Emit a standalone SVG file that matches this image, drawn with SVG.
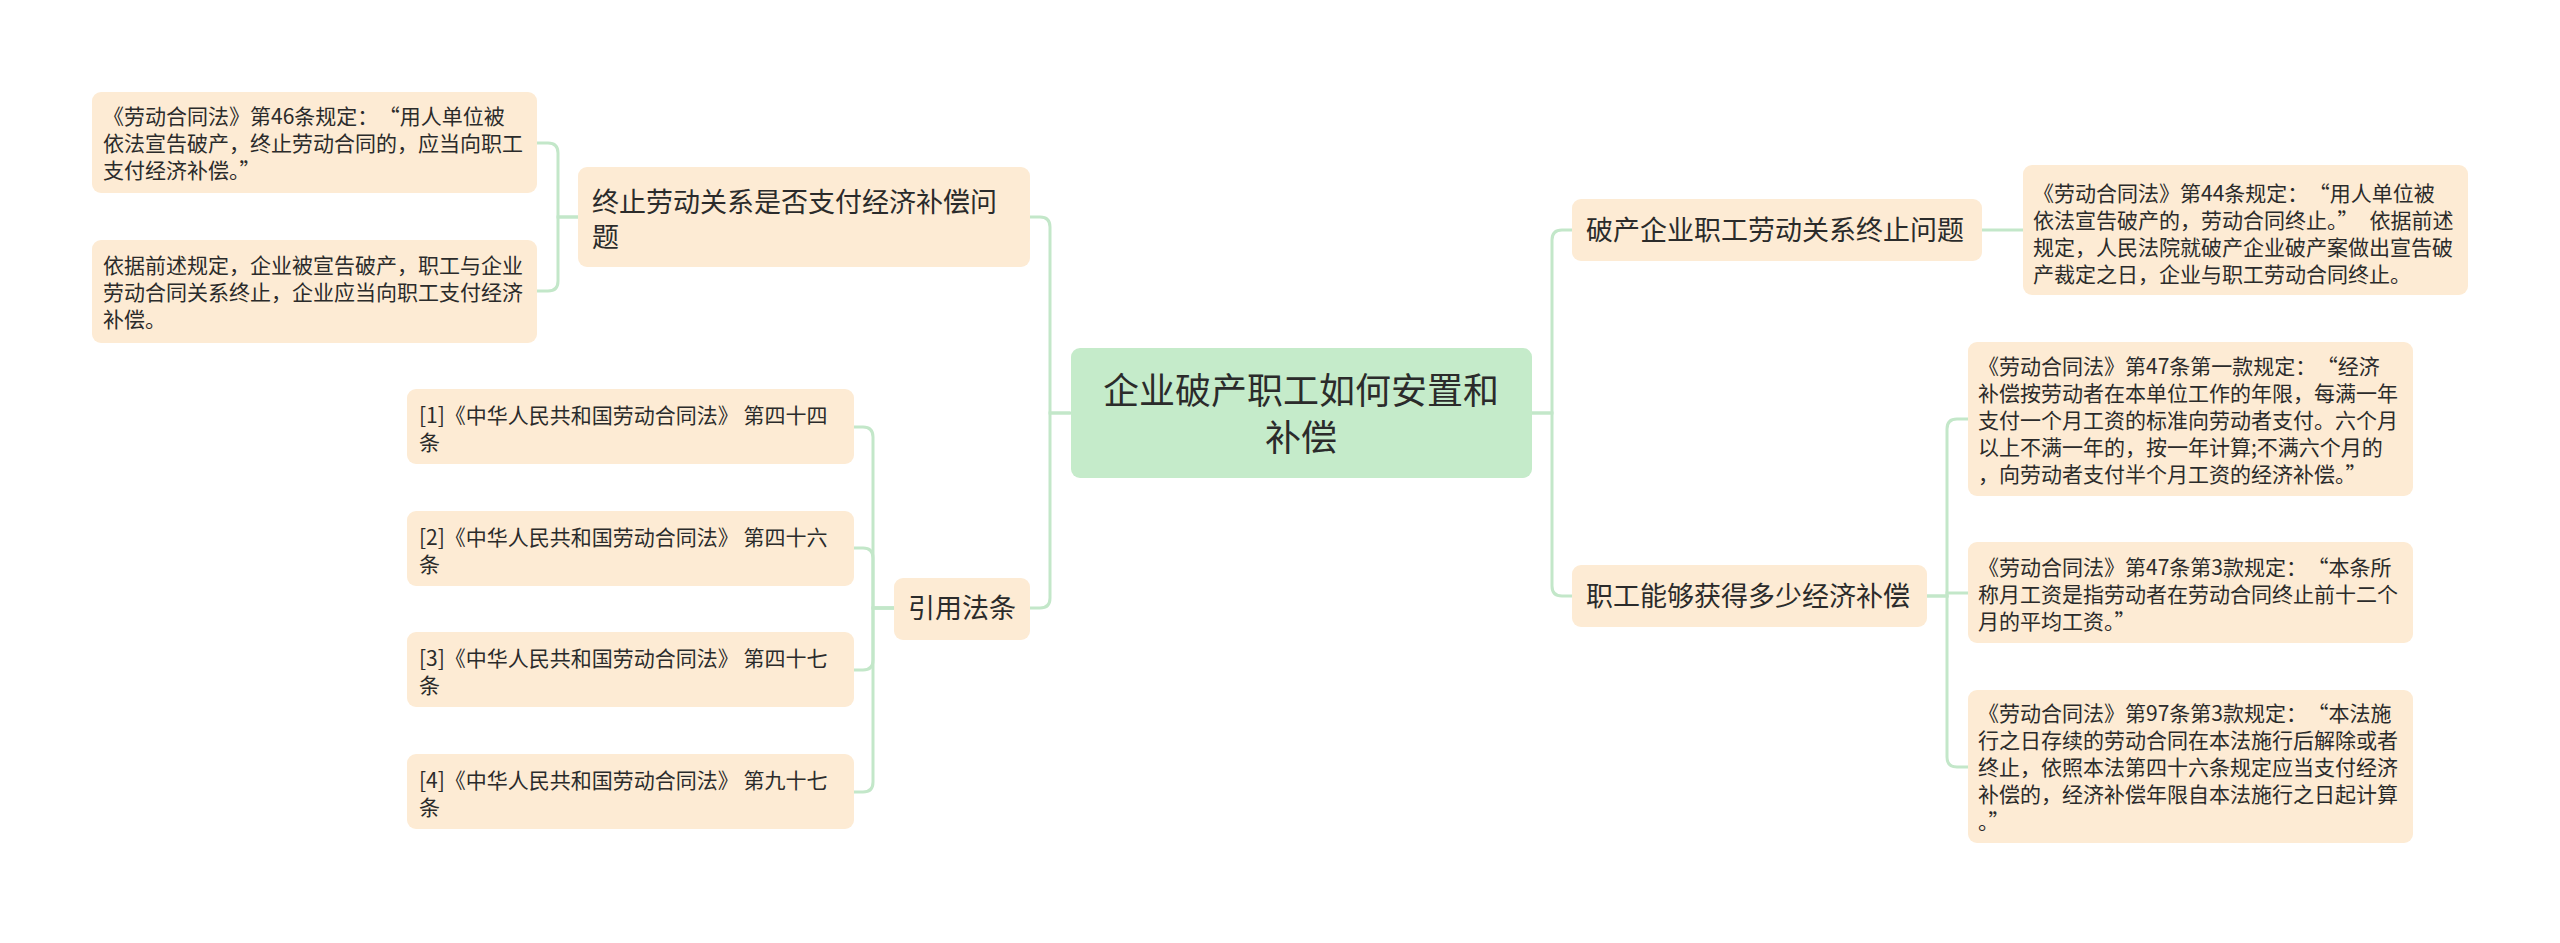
<svg xmlns="http://www.w3.org/2000/svg" width="2560" height="943" viewBox="0 0 2560 943">
<style>
.n{fill:#fdebd4;}
.c{fill:#c5ebca;}
text{font-family:"Noto Sans CJK SC","Noto Sans",sans-serif;fill:#2b2b2b;}
.s{font-size:21px;}
.m{font-size:27px;}
.big{font-size:36px;}
#connectors path{fill:none;stroke:#c3e7c9;stroke-width:3;stroke-linecap:round;}
</style>
<rect width="2560" height="943" fill="#ffffff"/>
<g id="connectors">
<path d="M1070,413 H1050 V227 Q1050,217 1040,217 H1030"/>
<path d="M1070,413 H1050 V598 Q1050,608 1040,608 H1030"/>
<path d="M1532,413 H1552 V240 Q1552,230 1562,230 H1572"/>
<path d="M1532,413 H1552 V586 Q1552,596 1562,596 H1572"/>
<path d="M1982,230 H2023"/>
<path d="M1927,596 H1947 V429 Q1947,419 1957,419 H1968"/>
<path d="M1927,596 H1947 V593 H1968"/>
<path d="M1947,596 V757 Q1947,767 1957,767 H1968"/>
<path d="M578,217 H558 V153 Q558,143 548,143 H537"/>
<path d="M578,217 H558 V281 Q558,291 548,291 H537"/>
<path d="M894,608 H873 V437 Q873,427 863,427 H854"/>
<path d="M894,608 H873 V558 Q873,548 863,548 H854"/>
<path d="M894,608 H873 V660 Q873,670 863,670 H854"/>
<path d="M894,608 H873 V782 Q873,792 863,792 H854"/>
</g>
<g id="root">
<rect class="c" x="1071" y="348" width="461" height="130" rx="9"/>
<text class="big" x="1301" y="404" text-anchor="middle">企业破产职工如何安置和</text>
<text class="big" x="1301" y="451" text-anchor="middle">补偿</text>
</g>
<g id="topic-l1">
<rect class="n" x="578" y="167" width="452" height="100" rx="9"/>
<text class="m" x="592" y="212">终止劳动关系是否支付经济补偿问</text>
<text class="m" x="592" y="247">题</text>
</g>
<g id="leaf-a1">
<rect class="n" x="92" y="92" width="445" height="101" rx="9"/>
<text class="s" x="103" y="124">《劳动合同法》第46条规定：<tspan dx="11">“</tspan>用人单位被</text>
<text class="s" x="103" y="151">依法宣告破产，终止劳动合同的，应当向职工</text>
<text class="s" x="103" y="178">支付经济补偿。”</text>
</g>
<g id="leaf-a2">
<rect class="n" x="92" y="240" width="445" height="103" rx="9"/>
<text class="s" x="103" y="273">依据前述规定，企业被宣告破产，职工与企业</text>
<text class="s" x="103" y="300">劳动合同关系终止，企业应当向职工支付经济</text>
<text class="s" x="103" y="327">补偿。</text>
</g>
<g id="topic-l2">
<rect class="n" x="894" y="578" width="136" height="62" rx="9"/>
<text class="m" x="908" y="618">引用法条</text>
</g>
<g id="cite-1">
<rect class="n" x="407" y="389" width="447" height="75" rx="9"/>
<text class="s" x="419" y="423">[1]《中华人民共和国劳动合同法》 第四十四</text>
<text class="s" x="419" y="450">条</text>
</g>
<g id="cite-2">
<rect class="n" x="407" y="511" width="447" height="75" rx="9"/>
<text class="s" x="419" y="545">[2]《中华人民共和国劳动合同法》 第四十六</text>
<text class="s" x="419" y="572">条</text>
</g>
<g id="cite-3">
<rect class="n" x="407" y="632" width="447" height="75" rx="9"/>
<text class="s" x="419" y="666">[3]《中华人民共和国劳动合同法》 第四十七</text>
<text class="s" x="419" y="693">条</text>
</g>
<g id="cite-4">
<rect class="n" x="407" y="754" width="447" height="75" rx="9"/>
<text class="s" x="419" y="788">[4]《中华人民共和国劳动合同法》 第九十七</text>
<text class="s" x="419" y="815">条</text>
</g>
<g id="topic-r1">
<rect class="n" x="1572" y="199" width="410" height="62" rx="9"/>
<text class="m" x="1586" y="240">破产企业职工劳动关系终止问题</text>
</g>
<g id="leaf-r1">
<rect class="n" x="2023" y="165" width="445" height="130" rx="9"/>
<text class="s" x="2033" y="201">《劳动合同法》第44条规定：<tspan dx="11">“</tspan>用人单位被</text>
<text class="s" x="2033" y="228">依法宣告破产的，劳动合同终止。”<tspan dx="11">依据前述</tspan></text>
<text class="s" x="2033" y="255">规定，人民法院就破产企业破产案做出宣告破</text>
<text class="s" x="2033" y="282">产裁定之日，企业与职工劳动合同终止。</text>
</g>
<g id="topic-r2">
<rect class="n" x="1572" y="565" width="355" height="62" rx="9"/>
<text class="m" x="1586" y="606">职工能够获得多少经济补偿</text>
</g>
<g id="leaf-d1">
<rect class="n" x="1968" y="342" width="445" height="154" rx="9"/>
<text class="s" x="1978" y="374">《劳动合同法》第47条第一款规定：<tspan dx="11">“</tspan>经济</text>
<text class="s" x="1978" y="401">补偿按劳动者在本单位工作的年限，每满一年</text>
<text class="s" x="1978" y="428">支付一个月工资的标准向劳动者支付。六个月</text>
<text class="s" x="1978" y="455">以上不满一年的，按一年计算;不满六个月的</text>
<text class="s" x="1978" y="482">，向劳动者支付半个月工资的经济补偿。”</text>
</g>
<g id="leaf-d2">
<rect class="n" x="1968" y="542" width="445" height="101" rx="9"/>
<text class="s" x="1978" y="575">《劳动合同法》第47条第3款规定：<tspan dx="11">“</tspan>本条所</text>
<text class="s" x="1978" y="602">称月工资是指劳动者在劳动合同终止前十二个</text>
<text class="s" x="1978" y="629">月的平均工资。”</text>
</g>
<g id="leaf-d3">
<rect class="n" x="1968" y="690" width="445" height="153" rx="9"/>
<text class="s" x="1978" y="721">《劳动合同法》第97条第3款规定：<tspan dx="11">“</tspan>本法施</text>
<text class="s" x="1978" y="748">行之日存续的劳动合同在本法施行后解除或者</text>
<text class="s" x="1978" y="775">终止，依照本法第四十六条规定应当支付经济</text>
<text class="s" x="1978" y="802">补偿的，经济补偿年限自本法施行之日起计算</text>
<text class="s" x="1978" y="829">。”</text>
</g>
</svg>
